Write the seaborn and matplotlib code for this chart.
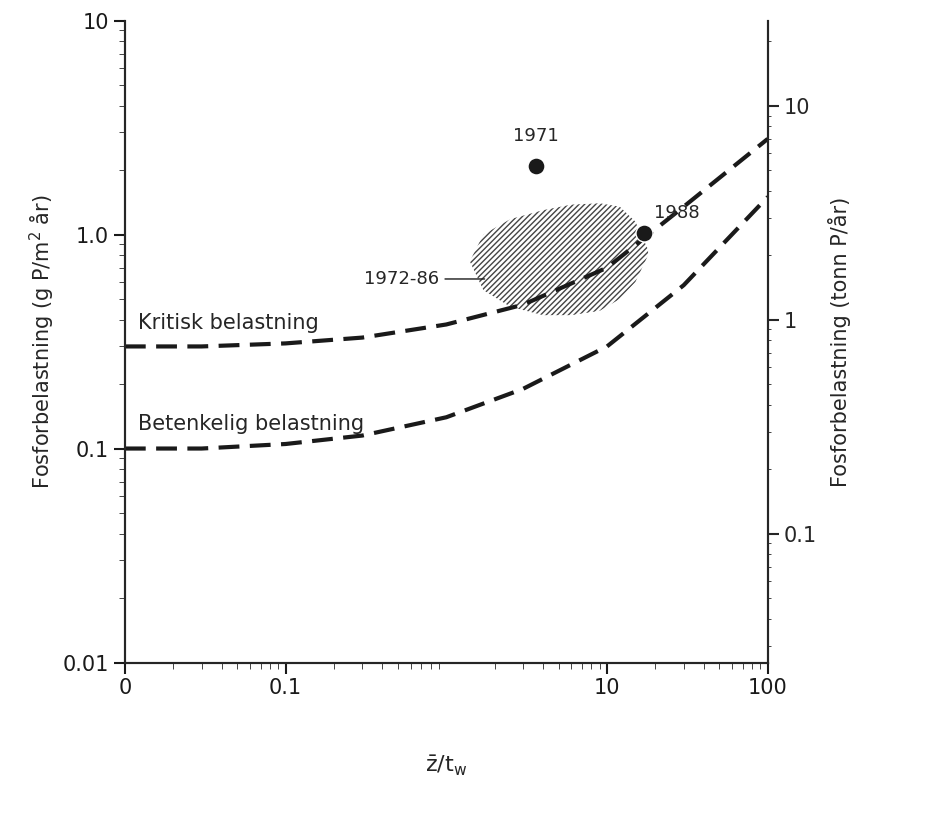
import numpy as np
import matplotlib
matplotlib.use("Agg")
import matplotlib.pyplot as plt
import seaborn as sns

# curves
x_curve = [0.01, 0.03, 0.1, 0.3, 1, 3, 10, 30, 100]
kritisk = [0.30, 0.30, 0.31, 0.33, 0.38, 0.47, 0.70, 1.35, 2.80]
betenkelig = [0.10, 0.10, 0.105, 0.115, 0.14, 0.19, 0.30, 0.58, 1.50]

# observations
years = ["1971", "1988"]
x_pts = [3.6, 17.0]
y_pts = [2.1, 1.02]

# hatched 1972-86 region
blob_x = [1.4, 1.7, 2.5, 4, 6, 9, 12, 15, 18]
blob_lo = [0.75, 0.55, 0.46, 0.42, 0.42, 0.44, 0.50, 0.60, 0.80]
blob_hi = [0.75, 1.00, 1.18, 1.30, 1.38, 1.40, 1.35, 1.15, 0.85]

sns.set_style("ticks")
plt.rcParams["font.family"] = ["DejaVu Sans"]

fig, ax = plt.subplots(figsize=(9.25, 8.23), dpi=100)
fig.subplots_adjust(left=0.135, right=0.83, top=0.975, bottom=0.195)

sns.lineplot(x=x_curve, y=kritisk, ax=ax, color="#1a1a1a", lw=3)
sns.lineplot(x=x_curve, y=betenkelig, ax=ax, color="#1a1a1a", lw=3)
for l in ax.lines:
    l.set_dashes((5, 2.5))

ax.fill_between(blob_x, blob_lo, blob_hi, facecolor="none", edgecolor="#444444",
                hatch="//////", lw=0)
sns.scatterplot(x=x_pts, y=y_pts, ax=ax, s=150, color="#1a1a1a", zorder=5)
ax.text(x_pts[0], y_pts[0] * 1.25, years[0], ha="center", va="bottom", fontsize=13)
ax.text(x_pts[1] * 1.15, y_pts[1] * 1.12, years[1], ha="left", va="bottom", fontsize=13)
ax.annotate("1972-86", xy=(1.8, 0.62), xytext=(0.9, 0.62), fontsize=13,
            ha="right", va="center",
            arrowprops=dict(arrowstyle="-", color="#1a1a1a", lw=1))
ax.text(0.012, 0.36, "Kritisk belastning", fontsize=15)
ax.text(0.012, 0.122, "Betenkelig belastning", fontsize=15)

ax.set_xscale("log")
ax.set_yscale("log")
ax.set_xlim(0.01, 100)
ax.set_ylim(0.01, 10)
ax.set_xticks([0.01, 0.1, 10, 100])
ax.set_xticklabels(["0", "0.1", "10", "100"], fontsize=15)
ax.set_yticks([0.01, 0.1, 1, 10])
ax.set_yticklabels(["0.01", "0.1", "1.0", "10"], fontsize=15)
ax.tick_params(which="major", length=8, width=1.5, colors="#1a1a1a")
ax.tick_params(which="minor", length=4)
ax.set_xlabel(r"$\mathrm{\bar{z}/t_w}$", fontsize=16, labelpad=40)
ax.set_ylabel(r"Fosforbelastning (g P/m$^2$ år)", fontsize=15)

ax2 = ax.twinx()
ax2.set_yscale("log")
ax2.set_ylim(0.025, 25)
ax2.set_yticks([0.1, 1, 10])
ax2.set_yticklabels(["0.1", "1", "10"], fontsize=15)
ax2.tick_params(which="major", length=8, width=1.5)
ax2.set_ylabel("Fosforbelastning (tonn P/år)", fontsize=15, labelpad=8)

for a in (ax, ax2):
    for s in a.spines.values():
        s.set_linewidth(1.5)
    a.spines["top"].set_visible(False)

fig.savefig("out.png", dpi=100)
